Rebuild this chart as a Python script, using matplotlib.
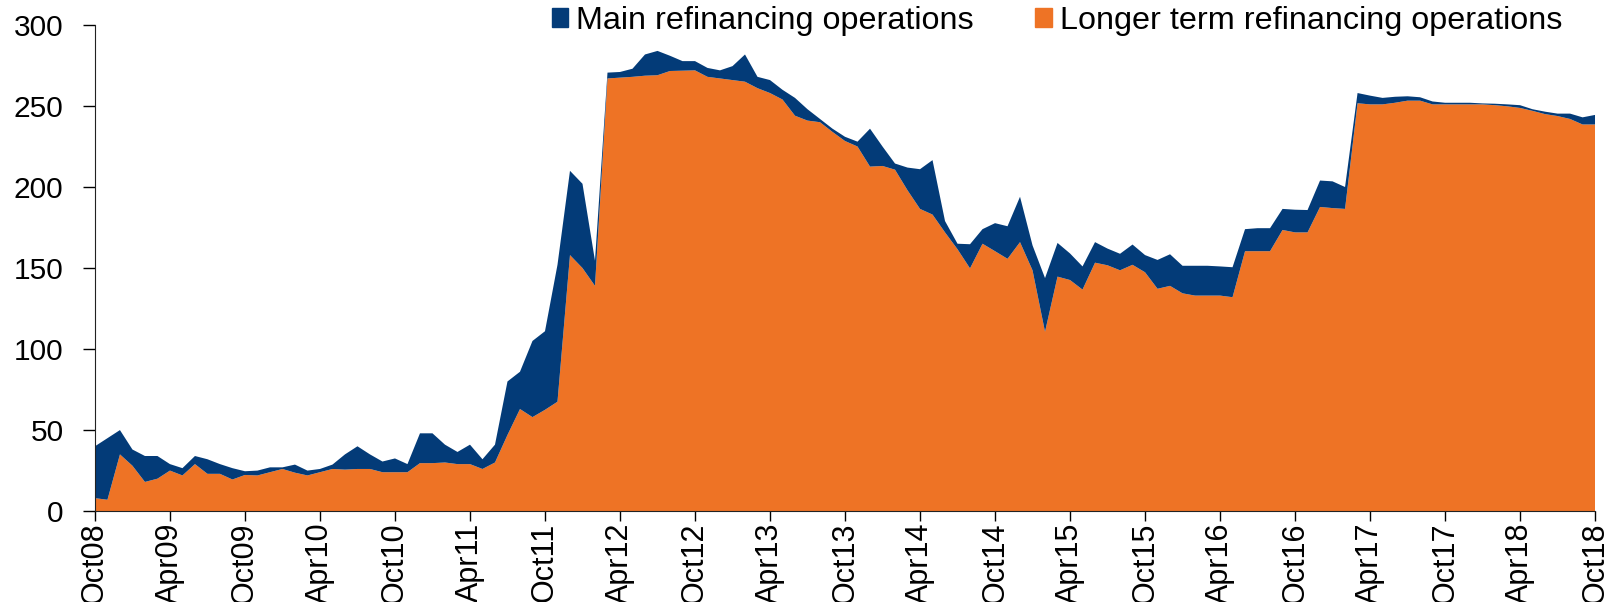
import pandas as pd
import matplotlib.pyplot as plt
from matplotlib.patches import Patch

plt.rcParams['font.family'] = ['Liberation Sans', 'DejaVu Sans']

# Monthly observations, Oct 2008 - Oct 2018 (EUR bn)
months = pd.date_range('2008-10-01', '2018-10-01', freq='MS')

# Longer term refinancing operations (bottom layer)
ltro = [8, 7, 35, 28, 18, 20, 25, 22, 29, 23, 23, 19.5,
        22.3, 22, 24, 26, 23.7, 22, 24, 26, 25.6, 26, 26, 24,
        24, 24, 29.6, 29.6, 30, 29, 29, 26, 30, 47, 63, 58,
        62.5, 67.5, 158, 150, 139, 267, 267.5, 268, 268.7, 269, 271.6, 271.8,
        272, 268, 267, 266, 265, 261, 258, 254, 244, 241, 240, 234,
        228.4, 225, 212.6, 213, 210.7, 198, 186.5, 183, 172, 161.6, 149.8, 165,
        160.4, 155.7, 166, 148.6, 110.7, 144.7, 142.6, 136.7, 153.3, 151.7, 148.6, 152,
        147.4, 137.2, 139, 134.4, 133, 133, 133, 132, 160.4, 160.4, 160.4, 173.5,
        172, 172, 187.7, 187, 186.5, 251.7, 251, 251, 252, 253.3, 253.3, 251,
        251, 251, 251, 251, 250.5, 249.8, 248.8, 247, 245, 243.8, 242, 238.6,
        238.6]

# Main refinancing operations (stacked on top)
mro = [32, 38, 15, 10, 16, 14, 4, 4.5, 5, 9, 6, 7,
       2.3, 3, 3, 1, 5, 3, 2, 2.7, 9.4, 14, 9, 6.6,
       8.5, 5, 18.4, 18.4, 11, 7.5, 12, 6, 11, 33, 23, 47,
       48.5, 84.5, 52, 52, 15.5, 3.6, 3.5, 5, 13.1, 15, 9.4, 5.9,
       5.7, 5.5, 5, 8.6, 16.8, 7, 8, 6, 11, 7, 2, 2,
       2.6, 3, 23.4, 12, 3.8, 14, 24.5, 33.6, 7, 3.4, 14.9, 9,
       17.3, 20.1, 28, 15.4, 33.1, 20.8, 16.4, 14.3, 12.7, 10.3, 10.2, 12.5,
       10.6, 17.8, 19.5, 17, 18.4, 18.4, 18, 18.5, 13.6, 14.2, 14.2, 13,
       14, 13.8, 16.3, 16.5, 13.5, 6.3, 5.4, 4, 3.7, 2.7, 2.1, 1.8,
       1, 1, 1, 0.6, 0.9, 1.2, 1.7, 1, 1.5, 1.5, 3.3, 4.4,
       5.9]

tick_labels = ['Oct08', 'Apr09', 'Oct09', 'Apr10', 'Oct10', 'Apr11', 'Oct11',
               'Apr12', 'Oct12', 'Apr13', 'Oct13', 'Apr14', 'Oct14', 'Apr15',
               'Oct15', 'Apr16', 'Oct16', 'Apr17', 'Oct17', 'Apr18', 'Oct18']

navy = '#033B78'
orange = '#EE7325'

x = list(range(len(months)))

fig = plt.figure(figsize=(16.12, 6.02), dpi=100)
ax = fig.add_axes([0.0589, 0.151, 0.9306, 0.8075])

ax.stackplot(x, ltro, mro, colors=[orange, navy], linewidth=0)

ax.set_xlim(0, len(months) - 1)
ax.set_ylim(0, 300)
ax.set_yticks(range(0, 301, 50))
ax.set_xticks(x[::6])
ax.set_xticklabels(tick_labels, rotation=90, fontsize=22)
ax.tick_params(axis='y', labelsize=21.5, length=8.6, width=1, direction='out', pad=14)
ax.tick_params(axis='x', length=7.2, width=1, direction='out', pad=1)

for side in ['top', 'right']:
    ax.spines[side].set_visible(False)
ax.spines['left'].set_color('#222222')
ax.spines['bottom'].set_color('#222222')

handles = [Patch(facecolor=navy, edgecolor=navy, label='Main refinancing operations'),
           Patch(facecolor=orange, edgecolor=orange, label='Longer term refinancing operations')]
fig.legend(handles=handles, loc='center right', bbox_to_anchor=(0.977, 0.965),
           ncol=2, frameon=False, fontsize=23.3, handlelength=0.5, handleheight=0.5,
           handletextpad=0.25, columnspacing=1.9, borderaxespad=0)

plt.savefig('out.png', dpi=100)
plt.close()
